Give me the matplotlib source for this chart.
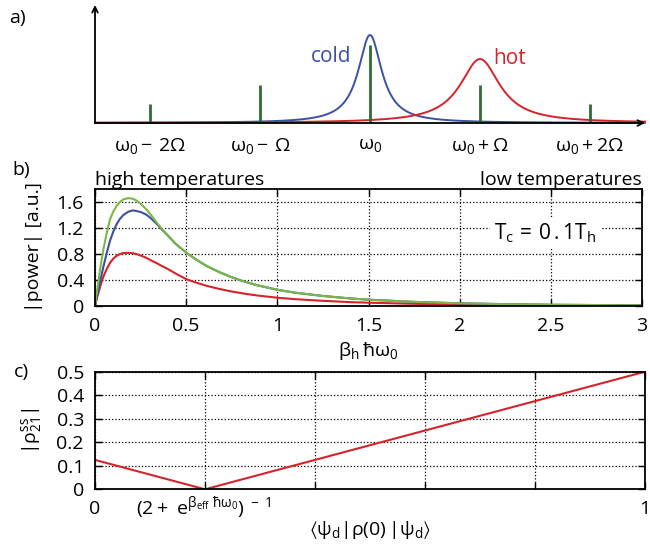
import numpy as np
import matplotlib
matplotlib.use("Agg")
import matplotlib.pyplot as plt
from matplotlib.transforms import ScaledTranslation

plt.rcParams['font.family'] = ['Open Sans', 'DejaVu Sans']
plt.rcParams['mathtext.fontset'] = 'custom'
plt.rcParams['mathtext.rm'] = 'Open Sans'
plt.rcParams['mathtext.it'] = 'Open Sans:italic'
plt.rcParams['mathtext.bf'] = 'Open Sans:bold'
plt.rcParams['mathtext.sf'] = 'Open Sans'
plt.rcParams['mathtext.default'] = 'regular'
plt.rcParams['mathtext.fallback'] = 'stixsans'

FS = 14

# ---- panel a: sidebands and bath spectra (units of Omega) ----
line_pos = [-2, -1, 0, 1, 2]
line_height = [19, 38, 78, 38, 19]
line_labels = [r'$\omega_0 -\, 2\Omega$', r'$\omega_0 -\, \Omega$', r'$\omega_0$',
               r'$\omega_0 + \Omega$', r'$\omega_0 + 2\Omega$']
# lorentzian bath spectra: centre, half width, peak height
cold_center, cold_width, cold_peak = 0.0, 0.13, 88
hot_center, hot_width, hot_peak = 1.0, 0.22, 64

# ---- panel b: power vs beta_h hbar omega_0 ----
beta_x = [0, 0.01, 0.018, 0.03, 0.046, 0.065, 0.082, 0.1, 0.119, 0.137, 0.156, 0.183,
          0.207, 0.229, 0.255, 0.284, 0.31, 0.339, 0.365, 0.394, 0.44, 0.5, 0.55,
          0.614, 0.68, 0.742, 0.81, 0.888, 1.0, 1.1, 1.25, 1.4, 1.5, 1.75, 2.0,
          2.25, 2.5, 2.75, 3.0]
power_green = [0, 0.21, 0.365, 0.6, 0.87, 1.13, 1.33, 1.45, 1.54, 1.60, 1.64, 1.66,
               1.65, 1.62, 1.56, 1.48, 1.39, 1.28, 1.19, 1.10, 0.96, 0.82, 0.72,
               0.61, 0.52, 0.447, 0.38, 0.317, 0.245, 0.20, 0.15, 0.112, 0.093, 0.059, 0.037,
               0.024, 0.015, 0.01, 0.006]
power_blue = [0, 0.13, 0.24, 0.4, 0.6, 0.82, 1.0, 1.14, 1.26, 1.34, 1.40, 1.45,
              1.47, 1.46, 1.44, 1.40, 1.34, 1.26, 1.18, 1.10, 0.96, 0.82, 0.72,
              0.61, 0.52, 0.447, 0.38, 0.317, 0.245, 0.20, 0.15, 0.112, 0.093, 0.059, 0.037,
              0.024, 0.015, 0.01, 0.006]
power_red = [0, 0.11, 0.19, 0.31, 0.45, 0.57, 0.66, 0.725, 0.77, 0.797, 0.812, 0.816,
             0.81, 0.795, 0.77, 0.735, 0.695, 0.655, 0.615, 0.575, 0.50, 0.41, 0.36,
             0.305, 0.26, 0.223, 0.19, 0.158, 0.123, 0.10, 0.075, 0.055, 0.046, 0.029, 0.018,
             0.012, 0.008, 0.005, 0.003]

# ---- panel c: coherence vs initial population ----
pop_x = [0, 0.2, 1]
rho21 = [0.125, 0, 0.5]

blue = '#3c50a5'
red = '#d5232b'
green_bar = '#2f6b32'
green = '#78b843'

W, H = 650, 548
fig = plt.figure(figsize=(W / 100, H / 100), dpi=100)


def box(l, t, r, b):
    return [l / W, 1 - b / H, (r - l) / W, (b - t) / H]


# panel a
ax_a = fig.add_axes(box(95, 5, 645, 123))
xs = np.linspace(-2.5, 2.5, 1001)
cold = cold_peak / (1 + ((xs - cold_center) / cold_width) ** 2)
hot = hot_peak / (1 + ((xs - hot_center) / hot_width) ** 2)
ax_a.plot(xs, cold, color=blue, lw=1.4, clip_on=False)
ax_a.plot(xs, hot, color=red, lw=1.4, clip_on=False)
ax_a.vlines(line_pos, 0, line_height, color=green_bar, lw=2)
ax_a.set_xlim(-2.5, 2.5)
ax_a.set_ylim(0, 118)
for s in ax_a.spines.values():
    s.set_visible(False)
ax_a.set_yticks([])
ax_a.set_xticks(line_pos, line_labels, fontsize=FS)
ax_a.tick_params(axis='x', length=0, pad=9)
ax_a.annotate('', xy=(0, 1.0), xytext=(0, 0), xycoords='axes fraction',
              arrowprops=dict(arrowstyle='->', lw=1.3, color='black', shrinkA=0, shrinkB=0))
ax_a.annotate('', xy=(1.0, 0), xytext=(0, 0), xycoords='axes fraction',
              arrowprops=dict(arrowstyle='->', lw=1.3, color='black', shrinkA=0, shrinkB=0))
ax_a.text(-0.35, 66, 'cold', color=blue, fontsize=15, ha='center', va='center')
ax_a.text(1.27, 64, 'hot', color=red, fontsize=15, ha='center', va='center')

# panel b
ax_b = fig.add_axes(box(95, 189, 642, 305.7))
ax_b.plot(beta_x, power_red, color=red, lw=1.5)
ax_b.plot(beta_x, power_blue, color=blue, lw=1.5)
ax_b.plot(beta_x, power_green, color=green, lw=1.5)
ax_b.set_xlim(0, 3)
ax_b.set_ylim(0, 1.8)
ax_b.set_xticks([0, 0.5, 1, 1.5, 2, 2.5, 3], ['0', '0.5', '1', '1.5', '2', '2.5', '3'])
ax_b.set_yticks([0, 0.4, 0.8, 1.2, 1.6], ['0', '0.4', '0.8', '1.2', '1.6'])
ax_b.set_ylabel('|power| [a.u.]', fontsize=FS, labelpad=10)
ax_b.set_xlabel(r'$\beta_h\,\hbar\omega_0$', fontsize=FS)
ax_b.xaxis.set_label_coords(0.5, -0.29)
ax_b.text(0, 1.0, 'high temperatures', transform=ax_b.transAxes, fontsize=FS,
          ha='left', va='bottom')
ax_b.text(1, 1.0, 'low temperatures', transform=ax_b.transAxes, fontsize=FS,
          ha='right', va='bottom')
ax_b.text(2.47, 1.12, r'$T_c\, = \,0\,.1T_h$', fontsize=15, ha='center', va='center',
          bbox=dict(facecolor='white', edgecolor='none', pad=3))

# panel c
ax_c = fig.add_axes(box(95, 371.7, 645, 489.3))
ax_c.plot(pop_x, rho21, color=red, lw=1.5)
ax_c.set_xlim(0, 1)
ax_c.set_ylim(0, 0.5)
ax_c.set_xticks([0, 0.2, 0.4, 0.6, 0.8, 1],
                ['0', r'$(2 +\ e^{\beta_{eff}\ \hbar\omega_0})^{\ -\ 1}$', '', '', '', '1'])
ax_c.set_yticks([0, 0.1, 0.2, 0.3, 0.4, 0.5], ['0', '0.1', '0.2', '0.3', '0.4', '0.5'])
ax_c.set_ylabel(r'$|\rho^{ss}_{21}|$', fontsize=FS, labelpad=9)
ax_c.set_xlabel(r'$\langle\psi_d|\rho(0)\,|\psi_d\rangle$', fontsize=FS)
ax_c.xaxis.set_label_coords(0.5, -0.25)

for ax in (ax_b, ax_c):
    ax.grid(True, ls=':', color='black', lw=0.9)
    ax.tick_params(direction='in', top=True, right=True, length=5, width=1,
                   labelsize=FS, pad=8)
    for s in ax.spines.values():
        s.set_linewidth(1.3)

# lift the formula tick label so its baseline sits with "0" and "1"
formula = ax_c.get_xticklabels()[1]
formula.set_transform(formula.get_transform() +
                      ScaledTranslation(-1 / 72, 4 / 72, fig.dpi_scale_trans))

fig.text(17 / W, 1 - 18 / H, 'a)', fontsize=FS, ha='center', va='center')
fig.text(21 / W, 1 - 170 / H, 'b)', fontsize=FS, ha='center', va='center')
fig.text(21 / W, 1 - 372 / H, 'c)', fontsize=FS, ha='center', va='center')

fig.savefig('out.png', dpi=100)
